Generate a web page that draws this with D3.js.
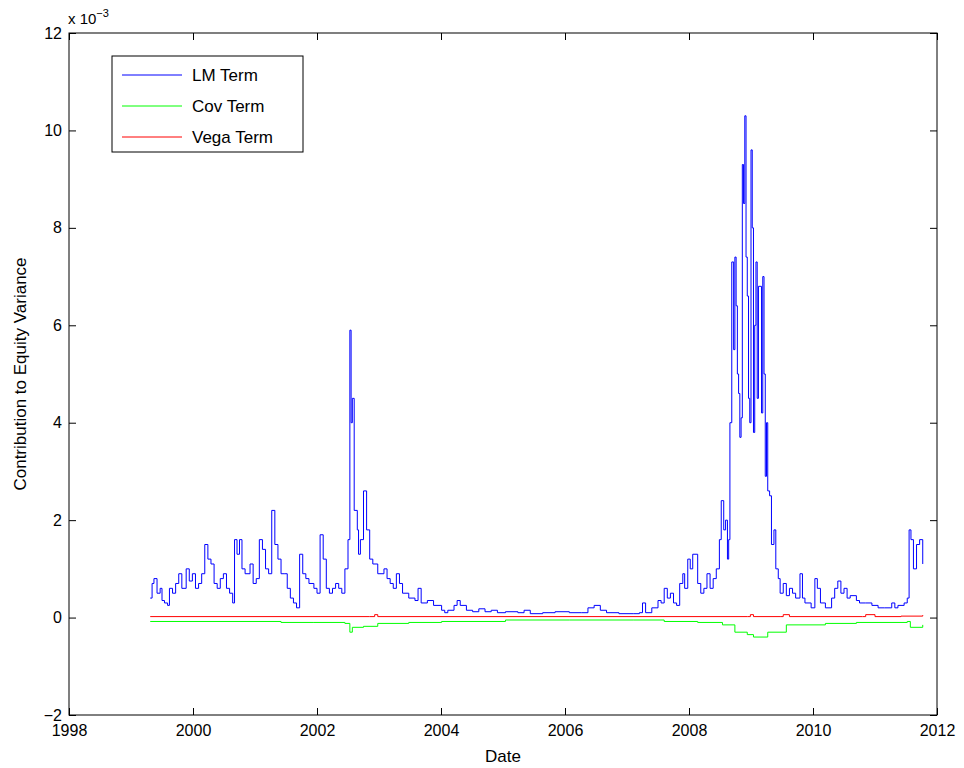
<!DOCTYPE html>
<html><head><meta charset="utf-8">
<script src="https://cdn.jsdelivr.net/npm/d3@7"></script>
<style>body{margin:0;background:#fff}text{font-family:"Liberation Sans",Arial,sans-serif}</style>
</head><body><svg id="c" width="964" height="768"></svg>
<script>
// LM term (x 1e-3), [year, value]
var lmTerm = [[1999.31,0.4],[1999.34,0.7],[1999.37,0.8],[1999.42,0.5],[1999.47,0.6],[1999.50,0.35],[1999.54,0.3],[1999.59,0.25],[1999.62,0.6],[1999.67,0.5],[1999.72,0.7],[1999.77,0.9],[1999.82,0.6],[1999.89,1.0],[1999.94,0.75],[1999.99,0.9],[2000.04,0.6],[2000.09,0.7],[2000.14,0.9],[2000.19,1.5],[2000.24,1.2],[2000.29,1.1],[2000.34,0.7],[2000.39,0.6],[2000.44,0.8],[2000.49,0.9],[2000.54,0.6],[2000.59,0.5],[2000.64,0.3],[2000.67,1.6],[2000.71,1.3],[2000.75,1.6],[2000.79,1.0],[2000.84,0.9],[2000.92,1.1],[2000.97,0.7],[2001.02,0.8],[2001.07,1.6],[2001.12,1.4],[2001.17,1.0],[2001.22,0.9],[2001.27,2.2],[2001.32,1.5],[2001.37,1.2],[2001.42,0.9],[2001.47,0.9],[2001.52,0.6],[2001.57,0.4],[2001.62,0.3],[2001.67,0.2],[2001.72,1.3],[2001.77,0.9],[2001.82,0.8],[2001.87,0.7],[2001.95,0.6],[2002.00,0.5],[2002.05,1.7],[2002.10,1.2],[2002.15,0.6],[2002.20,0.5],[2002.25,0.6],[2002.30,0.7],[2002.35,0.6],[2002.40,0.5],[2002.45,1.0],[2002.50,1.6],[2002.53,5.9],[2002.55,4.0],[2002.57,4.5],[2002.60,2.2],[2002.65,1.8],[2002.67,1.3],[2002.70,1.6],[2002.75,2.6],[2002.80,1.8],[2002.85,1.2],[2002.90,1.1],[2002.98,0.9],[2003.08,1.0],[2003.13,0.8],[2003.18,0.7],[2003.23,0.6],[2003.28,0.9],[2003.33,0.7],[2003.38,0.5],[2003.48,0.4],[2003.58,0.35],[2003.63,0.6],[2003.68,0.3],[2003.78,0.35],[2003.88,0.25],[2004.01,0.15],[2004.06,0.1],[2004.11,0.15],[2004.21,0.25],[2004.26,0.35],[2004.31,0.25],[2004.41,0.15],[2004.51,0.12],[2004.61,0.18],[2004.71,0.12],[2004.81,0.15],[2004.91,0.1],[2005.04,0.12],[2005.24,0.1],[2005.34,0.15],[2005.44,0.08],[2005.64,0.1],[2005.84,0.12],[2006.07,0.1],[2006.27,0.1],[2006.37,0.2],[2006.47,0.25],[2006.57,0.15],[2006.67,0.1],[2006.87,0.08],[2007.10,0.08],[2007.20,0.1],[2007.25,0.3],[2007.30,0.1],[2007.40,0.2],[2007.50,0.35],[2007.55,0.3],[2007.60,0.6],[2007.65,0.4],[2007.70,0.5],[2007.75,0.3],[2007.80,0.25],[2007.85,0.7],[2007.90,0.9],[2007.93,0.6],[2007.98,1.2],[2008.02,1.0],[2008.06,1.3],[2008.14,0.7],[2008.19,0.5],[2008.24,0.6],[2008.29,0.9],[2008.34,0.6],[2008.39,0.8],[2008.44,1.0],[2008.49,1.6],[2008.52,2.4],[2008.56,1.8],[2008.59,2.0],[2008.62,1.2],[2008.64,1.6],[2008.66,4.0],[2008.69,7.3],[2008.72,5.5],[2008.74,7.4],[2008.76,6.4],[2008.78,5.0],[2008.80,4.6],[2008.82,3.7],[2008.84,4.1],[2008.86,9.3],[2008.88,8.5],[2008.90,10.3],[2008.92,7.4],[2008.94,6.6],[2008.96,4.5],[2008.98,4.0],[2009.00,9.6],[2009.02,8.0],[2009.04,3.8],[2009.06,6.0],[2009.08,7.3],[2009.10,4.5],[2009.12,6.8],[2009.17,4.2],[2009.19,7.0],[2009.21,5.0],[2009.23,2.9],[2009.25,4.0],[2009.27,2.6],[2009.30,2.5],[2009.33,1.5],[2009.37,1.8],[2009.40,1.0],[2009.44,0.8],[2009.47,0.5],[2009.52,0.7],[2009.57,0.45],[2009.62,0.6],[2009.67,0.5],[2009.72,0.4],[2009.79,0.9],[2009.83,0.4],[2009.87,0.3],[2009.97,0.2],[2010.03,0.8],[2010.07,0.6],[2010.12,0.3],[2010.20,0.2],[2010.30,0.4],[2010.35,0.6],[2010.40,0.75],[2010.45,0.5],[2010.50,0.6],[2010.55,0.4],[2010.60,0.45],[2010.70,0.35],[2010.75,0.3],[2010.85,0.3],[2010.95,0.25],[2011.05,0.2],[2011.15,0.2],[2011.27,0.3],[2011.32,0.2],[2011.37,0.25],[2011.47,0.3],[2011.52,0.4],[2011.55,1.8],[2011.58,1.6],[2011.62,1.0],[2011.67,1.5],[2011.72,1.6],[2011.77,1.1]];
var covTerm = [[1999.31,-0.08],[2001.42,-0.1],[2001.95,-0.1],[2002.45,-0.12],[2002.53,-0.3],[2002.57,-0.2],[2002.75,-0.18],[2002.98,-0.12],[2003.48,-0.1],[2004.01,-0.08],[2005.04,-0.05],[2006.07,-0.05],[2007.10,-0.05],[2007.60,-0.08],[2008.14,-0.1],[2008.54,-0.15],[2008.74,-0.3],[2008.94,-0.35],[2009.04,-0.4],[2009.27,-0.3],[2009.57,-0.15],[2010.20,-0.12],[2010.70,-0.1],[2011.52,-0.08],[2011.57,-0.2],[2011.77,-0.15]];
var vegaTerm = [[1999.31,0.02],[2002.85,0.02],[2002.93,0.06],[2002.98,0.02],[2008.94,0.02],[2008.99,0.06],[2009.04,0.02],[2009.47,0.02],[2009.52,0.06],[2009.62,0.02],[2010.80,0.02],[2010.85,0.06],[2011.00,0.02],[2011.42,0.03],[2011.77,0.05]];
var xTicks = [1998,2000,2002,2004,2006,2008,2010,2012];
var yTicks = [-2,0,2,4,6,8,10,12];
var seriesNames = ["LM Term","Cov Term","Vega Term"];
var seriesColors = ["#0000ff","#00ff00","#ff0000"];

var L=69,R=937,T=33,B=715;
var svg=d3.select("#c");
var x=d3.scaleLinear().domain([1998,2012]).range([L,R]);
var y=d3.scaleLinear().domain([-2,12]).range([B,T]);
var line=d3.line().x(d=>x(d[0])).y(d=>y(d[1])).curve(d3.curveStepAfter);

[lmTerm,covTerm,vegaTerm].forEach(function(s,i){
  svg.append("path").attr("d",line(s)).attr("fill","none").attr("stroke",seriesColors[i]).attr("stroke-width",1);
});

function ax(g){g.call(a=>a.select(".domain").remove());g.selectAll("text").attr("font-size",16).attr("fill","#000");g.selectAll("line").attr("stroke","#000");}
svg.append("g").attr("transform","translate(0,"+B+")").call(d3.axisBottom(x).tickValues(xTicks).tickFormat(d3.format("d")).tickSizeInner(-7).tickSizeOuter(0).tickPadding(10)).call(ax);
svg.append("g").attr("transform","translate(0,"+T+")").call(d3.axisTop(x).tickValues(xTicks).tickFormat("").tickSizeInner(-7).tickSizeOuter(0)).call(ax);
svg.append("g").attr("transform","translate("+L+",0)").call(d3.axisLeft(y).tickValues(yTicks).tickFormat(d=>d<0?"\u2212"+(-d):d).tickSizeInner(-7).tickSizeOuter(0).tickPadding(7)).call(ax);
svg.append("g").attr("transform","translate("+R+",0)").call(d3.axisRight(y).tickValues(yTicks).tickFormat("").tickSizeInner(-7).tickSizeOuter(0)).call(ax);
svg.append("rect").attr("x",L).attr("y",T).attr("width",R-L).attr("height",B-T).attr("fill","none").attr("stroke","#000");

var t=svg.append("text").attr("x",68).attr("y",24).attr("font-size",15);
t.append("tspan").text("x 10");
t.append("tspan").attr("dy",-7).attr("font-size",11).text("\u22123");
svg.append("text").attr("x",(L+R)/2).attr("y",762).attr("text-anchor","middle").attr("font-size",17).text("Date");
svg.append("text").attr("transform","translate(26,"+(T+B)/2+") rotate(-90)").attr("text-anchor","middle").attr("font-size",17).text("Contribution to Equity Variance");

var lg=svg.append("g");
lg.append("rect").attr("x",112).attr("y",56).attr("width",191).attr("height",96).attr("fill","#fff").attr("stroke","#000");
seriesNames.forEach(function(n,i){
  var yy=75+i*31;
  lg.append("line").attr("x1",122).attr("x2",182).attr("y1",yy).attr("y2",yy).attr("stroke",seriesColors[i]);
  lg.append("text").attr("x",192).attr("y",yy+6).attr("font-size",17).text(n);
});
</script></body></html>
